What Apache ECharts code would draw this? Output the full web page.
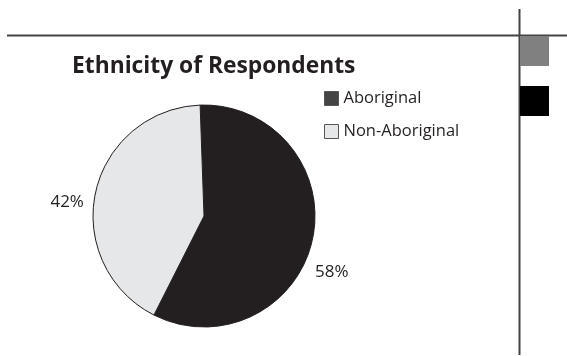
<!DOCTYPE html>
<html>
<head>
<meta charset="utf-8">
<script src="https://cdn.jsdelivr.net/npm/echarts@6/dist/echarts.min.js"></script>
<style>
  html, body { margin: 0; padding: 0; background: #fff; }
  #chart { width: 567px; height: 356px; }
</style>
</head>
<body>
<div id="chart"></div>
<script>
// Survey breakdown by ethnicity (percent of respondents)
const categories = ['Aboriginal', 'Non-Aboriginal'];
const shares = [58, 42];
const sliceColors = ['#231f20', '#e6e7e8'];
const legendSwatches = ['#444444', '#e6e7e8'];

const chart = echarts.init(document.getElementById('chart'), null, { renderer: 'canvas' });

const FONT = '"Open Sans", "Noto Sans", sans-serif';

chart.setOption({
  animation: false,
  backgroundColor: '#ffffff',
  title: {
    text: 'Ethnicity of Respondents',
    left: 67,
    top: 50,
    textStyle: { fontFamily: FONT, fontWeight: 'bold', fontSize: 22.8, color: '#231f20' }
  },
  legend: {
    orient: 'vertical',
    left: 324,
    top: 90,
    padding: 0,
    itemWidth: 14,
    itemHeight: 14,
    itemGap: 16,
    icon: 'rect',
    selectedMode: false,
    textStyle: { fontFamily: FONT, fontSize: 16.5, color: '#231f20' },
    data: categories.map((name, i) => ({
      name,
      itemStyle: { color: legendSwatches[i], borderColor: '#555', borderWidth: 1 }
    }))
  },
  graphic: [
    // page rules and side tabs
    { type: 'line', shape: { x1: 7, y1: 35.5, x2: 567, y2: 35.5 }, style: { stroke: '#444', lineWidth: 2 } },
    { type: 'line', shape: { x1: 519.5, y1: 9, x2: 519.5, y2: 355 }, style: { stroke: '#444', lineWidth: 2 } },
    { type: 'rect', shape: { x: 520, y: 36, width: 29, height: 30 }, style: { fill: '#808080' } },
    { type: 'rect', shape: { x: 520, y: 86, width: 29, height: 30 }, style: { fill: '#000000' } }
  ],
  series: [{
    type: 'pie',
    center: [204, 216],
    radius: 111,
    startAngle: 92,
    clockwise: true,
    itemStyle: { borderColor: '#231f20', borderWidth: 1 },
    label: {
      show: true,
      position: 'outside',
      formatter: '{d}%',
      fontFamily: FONT,
      fontSize: 17,
      color: '#231f20',
      distanceToLabelLine: 0
    },
    labelLine: { show: false, length: 14, length2: 0 },
    // nudge the percentage labels into their usual spots beside the pie
    labelLayout: function (params) {
      return params.dataIndex === 0 ? { dx: -11, dy: 29 } : { dx: 2, dy: 13 };
    },
    emphasis: { disabled: true },
    data: categories.map((name, i) => ({
      name,
      value: shares[i],
      itemStyle: { color: sliceColors[i] }
    }))
  }]
});
</script>
</body>
</html>
